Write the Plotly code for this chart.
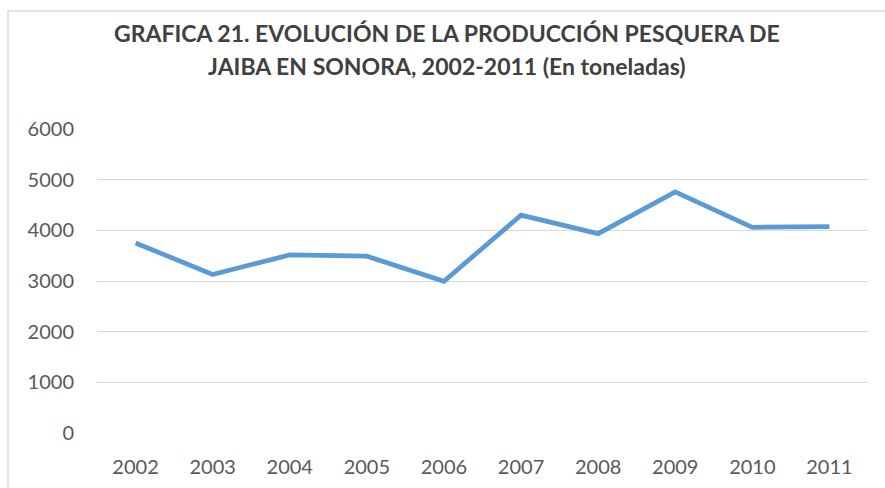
import plotly.graph_objects as go

years = ["2002", "2003", "2004", "2005", "2006", "2007", "2008", "2009", "2010", "2011"]
produccion = [3750, 3130, 3515, 3490, 2995, 4300, 3935, 4760, 4060, 4075]
y_ticks = [0, 1000, 2000, 3000, 4000, 5000, 6000]
title_lines = ["GRAFICA 21. EVOLUCIÓN DE LA PRODUCCIÓN PESQUERA DE",
               "JAIBA EN SONORA, 2002-2011 (En toneladas)"]

W, H = 885, 488
L, R, T, B = 97, 17, 129, 55
pw, ph = W - L - R, H - T - B

def px_x(x):
    return (x - L) / pw

def px_y(y):
    return (H - B - y) / ph

fig = go.Figure()
fig.add_trace(go.Scatter(
    x=years, y=produccion, mode="lines",
    line=dict(color="#5b9bd5", width=4.7),
    hoverinfo="x+y", showlegend=False,
))

annotations = []
for txt, ypx in zip(title_lines, [33, 66.5]):
    annotations.append(dict(
        text="<b>" + txt + "</b>", xref="paper", yref="paper",
        x=px_x(447), y=px_y(ypx), xanchor="center", yanchor="middle",
        showarrow=False, font=dict(family="Lato", size=23, color="#404040"),
    ))

fig.update_layout(
    width=W, height=H,
    margin=dict(l=L, r=R, t=T, b=B),
    paper_bgcolor="white", plot_bgcolor="white",
    font=dict(family="Lato", color="#595959", size=20),
    annotations=annotations,
    xaxis=dict(
        type="category", range=[-0.5, 9.5], showgrid=False, zeroline=False,
        showline=False, ticks="", automargin=False,
        tickfont=dict(family="Lato", size=20, color="#595959"), ticklabelstandoff=20,
    ),
    yaxis=dict(
        range=[0, 6000], tickvals=y_ticks, ticktext=[str(v) for v in y_ticks],
        showgrid=True, gridcolor="#d9d9d9", gridwidth=1.3, zeroline=False,
        showline=False, ticks="", automargin=False,
        tickfont=dict(family="Lato", size=20, color="#595959"),
        ticklabelstandoff=22,
    ),
    shapes=[dict(
        type="rect", xref="paper", yref="paper",
        x0=px_x(8), x1=px_x(895), y0=px_y(500), y1=px_y(11),
        line=dict(color="#d9d9d9", width=1.5), fillcolor="rgba(0,0,0,0)",
        layer="below",
    )],
)

fig.write_html("out.html", config={"displayModeBar": False},
               post_script="document.body.style.margin='0';")
